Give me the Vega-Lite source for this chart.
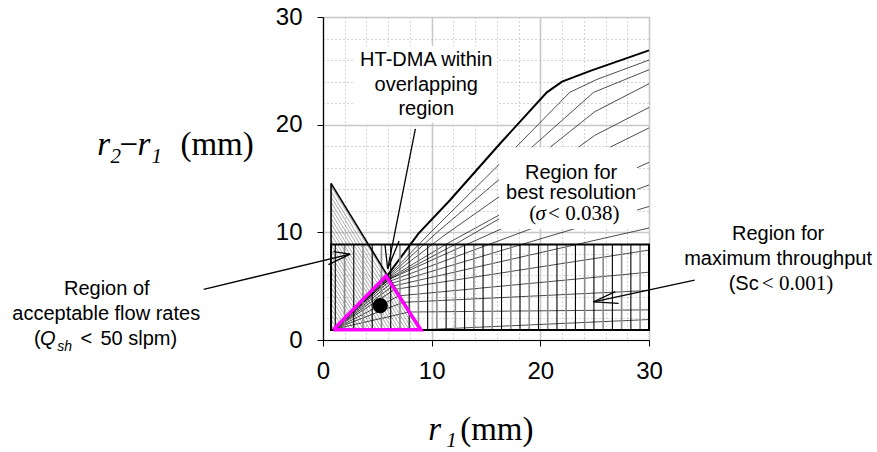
{
  "$schema": "https://vega.github.io/schema/vega-lite/v6.json",
  "width": 326,
  "height": 323,
  "autosize": {"type": "none"},
  "padding": {"left": 323, "top": 17, "right": 228, "bottom": 112},
  "background": "white",
  "config": {"view": {"stroke": "#333333", "strokeWidth": 1}},
  "encoding": {
    "x": {
      "field": "x", "type": "quantitative",
      "scale": {"domain": [0, 30], "nice": false, "zero": false},
      "axis": {
        "title": null,
        "values": [0, 2, 4, 6, 8, 10, 12, 14, 16, 18, 20, 22, 24, 26, 28, 30],
        "labelExpr": "datum.value % 10 === 0 ? datum.label : ''",
        "labelFont": "Liberation Sans", "labelFontSize": 24, "labelColor": "black",
        "labelPadding": 13, "labelOverlap": false, "labelFlush": false, "labelBound": false,
        "tickSize": 6, "tickColor": "black",
        "tickOpacity": {"condition": {"test": "datum.value % 10 === 0", "value": 1}, "value": 0},
        "domainColor": "black", "domainWidth": 1.2,
        "grid": true,
        "gridColor": {"condition": {"test": "datum.value % 10 === 0", "value": "#c8c8c8"}, "value": "#a8a8a8"},
        "gridDash": {"condition": {"test": "datum.value % 10 === 0", "value": []}, "value": [1, 3]},
        "gridWidth": {"condition": {"test": "datum.value % 10 === 0", "value": 1.6}, "value": 1}
      }
    },
    "y": {
      "field": "y", "type": "quantitative",
      "scale": {"domain": [0, 30], "nice": false, "zero": false},
      "axis": {
        "title": null,
        "values": [0, 2, 4, 6, 8, 10, 12, 14, 16, 18, 20, 22, 24, 26, 28, 30],
        "labelExpr": "datum.value % 10 === 0 ? datum.label : ''",
        "labelFont": "Liberation Sans", "labelFontSize": 24, "labelColor": "black",
        "labelPadding": 15, "labelOverlap": false, "labelFlush": false, "labelBound": false,
        "tickSize": 6, "tickColor": "black",
        "tickOpacity": {"condition": {"test": "datum.value % 10 === 0", "value": 1}, "value": 0},
        "domainColor": "black", "domainWidth": 1.2,
        "grid": true,
        "gridColor": {"condition": {"test": "datum.value % 10 === 0", "value": "#c8c8c8"}, "value": "#a8a8a8"},
        "gridDash": {"condition": {"test": "datum.value % 10 === 0", "value": []}, "value": [1, 3]},
        "gridWidth": {"condition": {"test": "datum.value % 10 === 0", "value": 1.6}, "value": 1}
      }
    }
  },
  "layer": [
    {
      "data": {"values": [
        {"x": 0.74, "y": 1.42, "x2": 1.04, "y2": 0.93},
        {"x": 0.74, "y": 1.92, "x2": 1.34, "y2": 0.93},
        {"x": 0.74, "y": 2.41, "x2": 1.64, "y2": 0.93},
        {"x": 0.74, "y": 2.91, "x2": 1.94, "y2": 0.93},
        {"x": 0.74, "y": 3.40, "x2": 2.24, "y2": 0.93},
        {"x": 0.74, "y": 3.90, "x2": 2.54, "y2": 0.93},
        {"x": 0.74, "y": 4.39, "x2": 2.84, "y2": 0.93},
        {"x": 0.74, "y": 4.89, "x2": 3.14, "y2": 0.93},
        {"x": 0.74, "y": 5.38, "x2": 3.44, "y2": 0.93},
        {"x": 0.74, "y": 5.87, "x2": 3.74, "y2": 0.93},
        {"x": 0.74, "y": 6.37, "x2": 4.04, "y2": 0.93},
        {"x": 0.74, "y": 6.86, "x2": 4.34, "y2": 0.93},
        {"x": 0.74, "y": 7.36, "x2": 4.64, "y2": 0.93},
        {"x": 0.74, "y": 7.85, "x2": 4.94, "y2": 0.93},
        {"x": 0.74, "y": 8.35, "x2": 5.24, "y2": 0.93},
        {"x": 0.74, "y": 8.84, "x2": 5.54, "y2": 0.93},
        {"x": 0.74, "y": 9.34, "x2": 5.84, "y2": 0.93},
        {"x": 0.74, "y": 9.83, "x2": 6.14, "y2": 0.93},
        {"x": 0.74, "y": 10.32, "x2": 6.44, "y2": 0.93},
        {"x": 0.74, "y": 10.82, "x2": 6.74, "y2": 0.93},
        {"x": 0.74, "y": 11.31, "x2": 7.04, "y2": 0.93},
        {"x": 0.74, "y": 11.81, "x2": 7.34, "y2": 0.93},
        {"x": 0.74, "y": 12.30, "x2": 7.64, "y2": 0.93},
        {"x": 0.74, "y": 12.80, "x2": 7.94, "y2": 0.93},
        {"x": 0.74, "y": 13.29, "x2": 8.24, "y2": 0.93},
        {"x": 0.74, "y": 13.78, "x2": 8.54, "y2": 0.93},
        {"x": 0.74, "y": 14.28, "x2": 8.84, "y2": 0.93}
      ]},
      "mark": {"type": "rule", "color": "#707070", "strokeWidth": 0.6},
      "encoding": {"x2": {"field": "x2"}, "y2": {"field": "y2"}}
    },
    {
      "data": {"values": [
        {"id": 2, "x": 1, "y": 1}, {"id": 2, "x": 5.9, "y": 5.85}, {"id": 2, "x": 10, "y": 10.1}, {"id": 2, "x": 16.2, "y": 16.3}, {"id": 2, "x": 22.7, "y": 23}, {"id": 2, "x": 25.2, "y": 24.2}, {"id": 2, "x": 30, "y": 26},
        {"id": 3, "x": 1, "y": 1}, {"id": 3, "x": 5.95, "y": 5.8}, {"id": 3, "x": 10.5, "y": 10.0}, {"id": 3, "x": 16.2, "y": 14.9}, {"id": 3, "x": 19.1, "y": 17.8}, {"id": 3, "x": 24.9, "y": 23}, {"id": 3, "x": 30, "y": 25.1},
        {"id": 4, "x": 1, "y": 1}, {"id": 4, "x": 6, "y": 5.75}, {"id": 4, "x": 11, "y": 9.6}, {"id": 4, "x": 16.2, "y": 13.3}, {"id": 4, "x": 20.9, "y": 17.9}, {"id": 4, "x": 25, "y": 21.2}, {"id": 4, "x": 30, "y": 23.8},
        {"id": 5, "x": 1, "y": 1}, {"id": 5, "x": 6.05, "y": 5.7}, {"id": 5, "x": 11.5, "y": 9.0}, {"id": 5, "x": 16.2, "y": 11.6}, {"id": 5, "x": 23.5, "y": 17.9}, {"id": 5, "x": 25, "y": 19}, {"id": 5, "x": 30, "y": 21.6},
        {"id": 6, "x": 1, "y": 1}, {"id": 6, "x": 6.1, "y": 5.65}, {"id": 6, "x": 12, "y": 8.8}, {"id": 6, "x": 18, "y": 12.3}, {"id": 6, "x": 26.4, "y": 17.9}, {"id": 6, "x": 30, "y": 19.7},
        {"id": 7, "x": 1, "y": 1}, {"id": 7, "x": 6.02, "y": 5.6}, {"id": 7, "x": 30, "y": 16.5},
        {"id": 8, "x": 1, "y": 1}, {"id": 8, "x": 6.12, "y": 5.45}, {"id": 8, "x": 30, "y": 14.4},
        {"id": 9, "x": 1, "y": 1}, {"id": 9, "x": 6.25, "y": 5.25}, {"id": 9, "x": 30, "y": 12.4},
        {"id": 10, "x": 1, "y": 1}, {"id": 10, "x": 6.41, "y": 5.0}, {"id": 10, "x": 30, "y": 10.4},
        {"id": 11, "x": 1, "y": 1}, {"id": 11, "x": 6.6, "y": 4.7}, {"id": 11, "x": 30, "y": 8.35},
        {"id": 12, "x": 1, "y": 1}, {"id": 12, "x": 6.98, "y": 4.1}, {"id": 12, "x": 30, "y": 6.3},
        {"id": 13, "x": 1, "y": 1}, {"id": 13, "x": 7.37, "y": 3.5}, {"id": 13, "x": 30, "y": 4.6},
        {"id": 14, "x": 1, "y": 1}, {"id": 14, "x": 7.94, "y": 2.6}, {"id": 14, "x": 30, "y": 2.8},
        {"id": 15, "x": 1, "y": 1}, {"id": 15, "x": 9.1, "y": 0.95}, {"id": 15, "x": 30, "y": 1.9}
      ]},
      "mark": {"type": "line", "color": "black", "strokeWidth": 0.7},
      "encoding": {"detail": {"field": "id", "type": "nominal"}}
    },
    {
      "data": {"values": [
        {"x": 1, "y": 1}, {"x": 5.85, "y": 5.9}, {"x": 8.8, "y": 9.9}, {"x": 11.7, "y": 13}, {"x": 16.3, "y": 18.25},
        {"x": 20.6, "y": 23}, {"x": 22, "y": 24}, {"x": 24.6, "y": 25}, {"x": 30, "y": 26.9}
      ]},
      "mark": {"type": "line", "color": "black", "strokeWidth": 2}
    },
    {
      "data": {"values": [
        {"x": 1.98, "y": 0.93, "y2": 8.88}, {"x": 3.68, "y": 0.93, "y2": 8.88}, {"x": 5.38, "y": 0.93, "y2": 8.88},
        {"x": 7.08, "y": 0.93, "y2": 8.88}, {"x": 8.78, "y": 0.93, "y2": 8.88}, {"x": 10.48, "y": 0.93, "y2": 8.88},
        {"x": 12.18, "y": 0.93, "y2": 8.88}, {"x": 13.88, "y": 0.93, "y2": 8.88}, {"x": 15.58, "y": 0.93, "y2": 8.88},
        {"x": 17.28, "y": 0.93, "y2": 8.88}, {"x": 18.98, "y": 0.93, "y2": 8.88}, {"x": 20.68, "y": 0.93, "y2": 8.88},
        {"x": 22.38, "y": 0.93, "y2": 8.88}, {"x": 24.08, "y": 0.93, "y2": 8.88}, {"x": 25.78, "y": 0.93, "y2": 8.88},
        {"x": 27.48, "y": 0.93, "y2": 8.88}, {"x": 29.18, "y": 0.93, "y2": 8.88}
      ]},
      "mark": {"type": "rule", "color": "#8a8a8a", "strokeWidth": 1.6},
      "encoding": {"y2": {"field": "y2"}}
    },
    {
      "data": {"values": [
        {"x": 1.13, "y": 0.93, "y2": 8.88}, {"x": 2.83, "y": 0.93, "y2": 8.88}, {"x": 4.53, "y": 0.93, "y2": 8.88},
        {"x": 6.23, "y": 0.93, "y2": 8.88}, {"x": 7.93, "y": 0.93, "y2": 8.88}, {"x": 9.63, "y": 0.93, "y2": 8.88},
        {"x": 11.33, "y": 0.93, "y2": 8.88}, {"x": 13.03, "y": 0.93, "y2": 8.88}, {"x": 14.73, "y": 0.93, "y2": 8.88},
        {"x": 16.43, "y": 0.93, "y2": 8.88}, {"x": 18.13, "y": 0.93, "y2": 8.88}, {"x": 19.83, "y": 0.93, "y2": 8.88},
        {"x": 21.53, "y": 0.93, "y2": 8.88}, {"x": 23.23, "y": 0.93, "y2": 8.88}, {"x": 24.93, "y": 0.93, "y2": 8.88},
        {"x": 26.63, "y": 0.93, "y2": 8.88}, {"x": 28.33, "y": 0.93, "y2": 8.88}
      ]},
      "mark": {"type": "rule", "color": "black", "strokeWidth": 1.1},
      "encoding": {"y2": {"field": "y2"}}
    },
    {
      "data": {"values": [
        {"x": 2.9, "x2": 16.0, "y": 20.2, "y2": 27.3},
        {"x": 16.2, "x2": 28.9, "y": 10.3, "y2": 17.9}
      ]},
      "mark": {"type": "rect", "color": "white"},
      "encoding": {"x2": {"field": "x2"}, "y2": {"field": "y2"}}
    },
    {
      "data": {"values": [{"x": 0.74, "x2": 30, "y": 0.93, "y2": 8.88}]},
      "mark": {"type": "rect", "filled": false, "color": "black", "strokeWidth": 2},
      "encoding": {"x2": {"field": "x2"}, "y2": {"field": "y2"}}
    },
    {
      "data": {"values": [
        {"x": 0.74, "y": 0.93, "x2": 0.74, "y2": 14.54},
        {"x": 0.74, "y": 14.54, "x2": 9.0, "y2": 0.93}
      ]},
      "mark": {"type": "rule", "color": "black", "strokeWidth": 1.6},
      "encoding": {"x2": {"field": "x2"}, "y2": {"field": "y2"}}
    },
    {
      "data": {"values": [
        {"o": 1, "x": 0.95, "y": 0.95}, {"o": 2, "x": 5.8, "y": 5.95}, {"o": 3, "x": 9.0, "y": 0.95}, {"o": 4, "x": 0.95, "y": 0.95}
      ]},
      "mark": {"type": "line", "color": "#ff00ff", "strokeWidth": 3.5},
      "encoding": {"order": {"field": "o", "type": "quantitative"}}
    },
    {
      "data": {"values": [{"x": 5.27, "y": 3.2}]},
      "mark": {"type": "point", "filled": true, "color": "black", "size": 230, "opacity": 1}
    },
    {
      "data": {"values": [
        {"x": 8.5, "y": 19.6, "x2": 5.95, "y2": 6.6},
        {"x": 5.95, "y": 6.6, "x2": 5.7, "y2": 8.9},
        {"x": 5.95, "y": 6.6, "x2": 7.0, "y2": 9.2},
        {"x": -10.98, "y": 4.7, "x2": 2.5, "y2": 7.98},
        {"x": 2.5, "y": 7.98, "x2": 0.95, "y2": 8.2},
        {"x": 2.5, "y": 7.98, "x2": 0.5, "y2": 7.0},
        {"x": 34.2, "y": 5.57, "x2": 24.9, "y2": 3.55},
        {"x": 24.9, "y": 3.55, "x2": 26.9, "y2": 4.5},
        {"x": 24.9, "y": 3.55, "x2": 27.2, "y2": 3.4}
      ]},
      "mark": {"type": "rule", "color": "black", "strokeWidth": 1.3},
      "encoding": {"x2": {"field": "x2"}, "y2": {"field": "y2"}}
    },
    {
      "data": {"values": [
        {"t": "HT-DMA within", "x": 9.5, "y": 25.45},
        {"t": "overlapping", "x": 9.5, "y": 23.13},
        {"t": "region", "x": 9.5, "y": 20.87},
        {"t": "Region for", "x": 22.83, "y": 15.0},
        {"t": "best resolution", "x": 22.83, "y": 13.14},
        {"t": "Region for", "x": 41.88, "y": 9.28},
        {"t": "maximum throughput", "x": 41.88, "y": 6.96},
        {"t": "Region of", "x": -19.9, "y": 4.17},
        {"t": "acceptable flow rates", "x": -19.95, "y": 1.86}
      ]},
      "mark": {"type": "text", "font": "Liberation Sans", "fontSize": 20, "align": "center", "baseline": "alphabetic", "color": "black"},
      "encoding": {"text": {"field": "t"}}
    },
    {
      "data": {"values": [
        {"t": "(", "x": 18.97, "y": 11.13},
        {"t": "< 0.038)", "x": 20.71, "y": 11.13},
        {"t": "< 0.001)", "x": 40.38, "y": 4.64}
      ]},
      "mark": {"type": "text", "font": "Liberation Serif", "fontSize": 21, "align": "left", "baseline": "alphabetic", "color": "black"},
      "encoding": {"text": {"field": "t"}}
    },
    {
      "data": {"values": [{"t": "σ", "x": 19.56, "y": 11.13}]},
      "mark": {"type": "text", "font": "Liberation Serif", "fontSize": 21, "fontStyle": "italic", "align": "left", "baseline": "alphabetic", "color": "black"},
      "encoding": {"text": {"field": "t"}}
    },
    {
      "data": {"values": [{"t": "(Sc", "x": 40.09, "y": 4.64}]},
      "mark": {"type": "text", "font": "Liberation Sans", "fontSize": 20, "align": "right", "baseline": "alphabetic", "color": "black"},
      "encoding": {"text": {"field": "t"}}
    },
    {
      "data": {"values": [
        {"t": "(", "x": -26.6, "y": -0.46},
        {"t": "<", "x": -22.31, "y": -0.46},
        {"t": "50 slpm)", "x": -20.48, "y": -0.46}
      ]},
      "mark": {"type": "text", "font": "Liberation Sans", "fontSize": 20, "align": "left", "baseline": "alphabetic", "color": "black"},
      "encoding": {"text": {"field": "t"}}
    },
    {
      "data": {"values": [{"t": "Q", "x": -26.05, "y": -0.46}]},
      "mark": {"type": "text", "font": "Liberation Sans", "fontSize": 20, "fontStyle": "italic", "align": "left", "baseline": "alphabetic", "color": "black"},
      "encoding": {"text": {"field": "t"}}
    },
    {
      "data": {"values": [{"t": "sh", "x": -24.46, "y": -1.02}]},
      "mark": {"type": "text", "font": "Liberation Sans", "fontSize": 14, "fontStyle": "italic", "align": "left", "baseline": "alphabetic", "color": "black"},
      "encoding": {"text": {"field": "t"}}
    },
    {
      "data": {"values": [
        {"t": "r", "x": -20.78, "y": 17.16},
        {"t": "r", "x": -17.07, "y": 17.16},
        {"t": "r", "x": 9.68, "y": -9.28}
      ]},
      "mark": {"type": "text", "font": "Liberation Serif", "fontSize": 33, "fontStyle": "italic", "align": "left", "baseline": "alphabetic", "color": "black"},
      "encoding": {"text": {"field": "t"}}
    },
    {
      "data": {"values": [
        {"t": "2", "x": -19.56, "y": 16.42},
        {"t": "1", "x": -15.79, "y": 16.42},
        {"t": "1", "x": 11.34, "y": -9.93}
      ]},
      "mark": {"type": "text", "font": "Liberation Serif", "fontSize": 21, "fontStyle": "italic", "align": "left", "baseline": "alphabetic", "color": "black"},
      "encoding": {"text": {"field": "t"}}
    },
    {
      "data": {"values": [
        {"t": "−", "x": -18.73, "y": 17.16},
        {"t": "(mm)", "x": -13.12, "y": 17.16},
        {"t": "(mm)", "x": 12.62, "y": -9.28}
      ]},
      "mark": {"type": "text", "font": "Liberation Serif", "fontSize": 33, "align": "left", "baseline": "alphabetic", "color": "black"},
      "encoding": {"text": {"field": "t"}}
    }
  ]
}
